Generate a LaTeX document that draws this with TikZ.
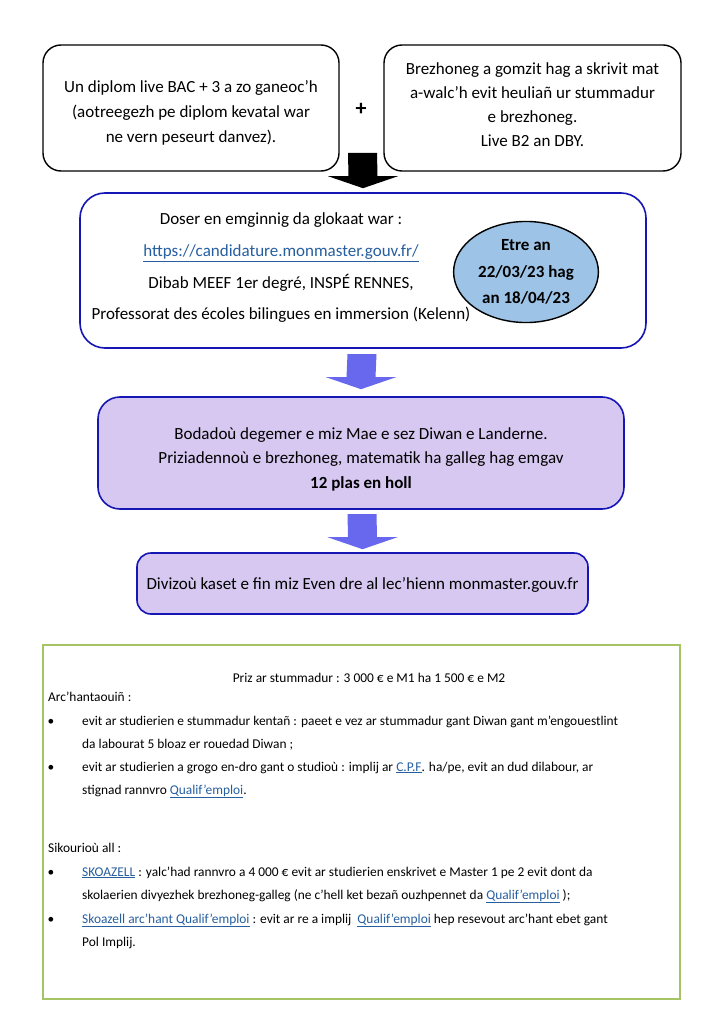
\documentclass[tikz,border=0pt]{standalone}
\usepackage{fontspec}
\setmainfont{Carlito}
\usepackage{xcolor}
\usepackage{tikz}
\usetikzlibrary{calc, shapes.geometric, positioning}

\definecolor{bluebord}{RGB}{22,22,180}
\definecolor{lavand}{RGB}{214,200,240}
\definecolor{arrowblue}{RGB}{104,104,238}
\definecolor{ellblue}{RGB}{157,195,230}
\definecolor{greenbord}{RGB}{165,196,100}
\definecolor{linkblue}{RGB}{38,95,160}

\newcommand{\lnk}[1]{{\color{linkblue}\underline{#1}}}
% bir bras : liv, lost, beg
\newcommand{\blockarrow}[3]{%
  \fill[#1] ($(#2)+(-14.5,0)$) -- ($(#2)+(14.5,0)$) -- ($(#3)+(14.5,-12)$)
    -- ($(#3)+(35,-12)$) -- (#3) -- ($(#3)+(-35,-12)$) -- ($(#3)+(-14.5,-12)$) -- cycle;}

\begin{document}
\begin{tikzpicture}[x=1pt, y=-1pt,
    box/.style={draw, line width=1.4pt, rounded corners=18pt},
    bluebox/.style={box, draw=bluebord, line width=1.6pt},
    boxtxt/.style={align=center, font=\fontsize{17}{24.5}\selectfont},
    txt/.style={anchor=base west, inner sep=0pt, font=\fontsize{13.4}{15}\selectfont},
    bul/.style={anchor=base, inner sep=0pt, font=\fontsize{13.4}{15}\selectfont}]
    \useasboundingbox (0,0) rectangle (724,1024);
    \fill[white] (0,0) rectangle (724,1024);

    % 1. An daou garrez krec'h
    \node[box, minimum width=296, minimum height=126] (diplom) at (191,108) {};
    \node[boxtxt, font=\fontsize{17}{25}\selectfont] (diplomtxt) at ($(diplom.center)+(0,5)$)
        {Un diplom live BAC + 3 a zo ganeoc’h\\(aotreegezh pe diplom kevatal war\\ne vern peseurt danvez).};
    \node[box, minimum width=297, minimum height=126] (brezhoneg) at (532.5,108) {};
    \node[boxtxt, font=\fontsize{17}{24}\selectfont] (brezhonegtxt) at ($(brezhoneg.center)+(0,-3)$)
        {Brezhoneg a gomzit hag a skrivit mat\\a-walc’h evit heuliañ ur stummadur\\e brezhoneg.\\Live B2 an DBY.};
    \node[font=\fontsize{22}{22}\selectfont\bfseries] (plus) at (361,109) {+};

    % 2. Doser
    \node[bluebox, rounded corners=25pt, minimum width=566, minimum height=155] (doser) at (363,270.5) {};
    \node[boxtxt, font=\fontsize{17}{31.7}\selectfont] (dosertxt) at (281,268)
        {Doser en emginnig da glokaat war :\\
         \lnk{https://candidature.monmaster.gouv.fr/}\\
         Dibab MEEF 1er degré, INSPÉ RENNES,\\
         Professorat des écoles bilingues en immersion (Kelenn)};
    \node[ellipse, draw, line width=1.4pt, fill=ellblue, minimum width=134, minimum height=98,
        align=center, font=\fontsize{17}{26.5}\selectfont\bfseries] (deiziad) at (526,272)
        {Etre an\\22/03/23 hag\\an 18/04/23};

    % 3. Bodadoù ha divizoù
    \node[bluebox, fill=lavand, rounded corners=22pt, minimum width=526, minimum height=112] (bodadou) at (361,453) {};
    \node[boxtxt] (bodadoutxt) at ($(bodadou.center)+(0,6)$)
        {Bodadoù degemer e miz Mae e sez Diwan e Landerne.\\
         Priziadennoù e brezhoneg, matematik ha galleg hag emgav\\
         \textbf{12 plas en holl}};
    \node[bluebox, fill=lavand, rounded corners=14pt, minimum width=451, minimum height=61] (divizou) at (362.5,583.5) {};
    \node[boxtxt] (divizoutxt) at ($(divizou.center)+(0,1)$)
        {Divizoù kaset e fin miz Even dre al lec’hienn monmaster.gouv.fr};

    % 4. Biroù
    \coordinate (lost1) at (362.5,153);
    \coordinate (lost2) at (362,354);
    \coordinate (lost3) at (362,514);
    \coordinate (beg1) at ($(doser.north)+(0,-4)$);
    \coordinate (beg2) at ($(bodadou.north)+(0,-7)$);
    \coordinate (beg3) at ($(divizou.north)+(0,-3)$);
    \blockarrow{black}{lost1}{beg1}
    \blockarrow{arrowblue}{lost2}{beg2}
    \blockarrow{arrowblue}{lost3}{beg3}

    % 5. Arc'hant
    \draw[greenbord, line width=2.4pt] (43,645) rectangle (680,999);
    \node[anchor=base, inner sep=0pt, font=\fontsize{13.4}{15}\selectfont] (priz) at (369,682)
        {Priz ar stummadur : 3 000 € e M1 ha 1 500 € e M2};
    \node[txt] (archant) at (48,701) {Arc’hantaouiñ :};
    \node[bul] (b1) at (51,725) {•};
    \node[txt] (b1a) at (82,725) {evit ar studierien e stummadur kentañ : paeet e vez ar stummadur gant Diwan gant m’engouestlint};
    \node[txt] (b1b) at (82,748) {da labourat 5 bloaz er rouedad Diwan ;};
    \node[bul] (b2) at (51,771) {•};
    \node[txt] (b2a) at (82,771) {evit ar studierien a grogo en-dro gant o studioù : implij ar \lnk{C.P.F}. ha/pe, evit an dud dilabour, ar};
    \node[txt] (b2b) at (82,794) {stignad rannvro \lnk{Qualif’emploi}.};

    \node[txt] (sikour) at (48,852) {Sikourioù all :};
    \node[bul] (b3) at (51,876) {•};
    \node[txt] (b3a) at (82,876) {\lnk{SKOAZELL} : yalc’had rannvro a 4 000 € evit ar studierien enskrivet e Master 1 pe 2 evit dont da};
    \node[txt] (b3b) at (82,899) {skolaerien divyezhek brezhoneg-galleg (ne c’hell ket bezañ ouzhpennet da \lnk{Qualif’emploi} );};
    \node[bul] (b4) at (51,923) {•};
    \node[txt] (b4a) at (82,923) {\lnk{Skoazell arc’hant Qualif’emploi} : evit ar re a implij \ \lnk{Qualif’emploi} hep resevout arc’hant ebet gant};
    \node[txt] (b4b) at (82,946) {Pol Implij.};
\end{tikzpicture}
\end{document}
